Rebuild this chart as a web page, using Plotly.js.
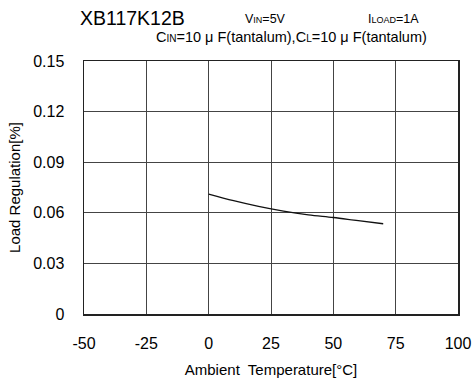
<!DOCTYPE html>
<html><head><meta charset="utf-8">
<script src="https://cdn.plot.ly/plotly-3.0.1.min.js"></script>
<style>html,body{margin:0;padding:0;background:#fff}</style>
</head><body><div id="chart" style="width:475px;height:383px"></div>
<script>
const temps = [0, 10, 20, 30, 40, 50, 60, 70];
const loadReg = [0.0711, 0.0672, 0.0638, 0.0610, 0.0588, 0.0572, 0.0553, 0.0535];
const xTicks = [-50, -25, 0, 25, 50, 75, 100];
const xTickText = ['-50', '-25', '0', '25', '50', '75', '100'];
const yTicks = [0, 0.03, 0.06, 0.09, 0.12, 0.15];
const yTickText = ['0', '0.03', '0.06', '0.09', '0.12', '0.15'];

const font = 'Liberation Sans, Arial, sans-serif';
const data = [{x: temps, y: loadReg, mode: 'lines', line: {color: '#111', width: 1.3, shape: 'spline'}, hoverinfo: 'skip'}];
const layout = {
  width: 475, height: 383,
  margin: {l: 84, r: 17, t: 61, b: 69},
  paper_bgcolor: '#fff', plot_bgcolor: '#fff',
  showlegend: false,
  font: {family: font, color: '#000', size: 13},
  xaxis: {range: [-50, 100], tickvals: xTicks, ticktext: xTickText, ticks: 'outside', ticklen: 14, tickcolor: 'rgba(0,0,0,0)',
    showgrid: true, gridcolor: '#444', gridwidth: 1, zeroline: false,
    showline: true, linecolor: '#222', linewidth: 1.5, mirror: true,
    tickfont: {size: 16},
    title: {text: 'Ambient  Temperature[°C]', font: {size: 15}, standoff: 14}},
  yaxis: {range: [0, 0.15], tickvals: yTicks, ticktext: yTickText, ticks: 'outside', ticklen: 15, tickcolor: 'rgba(0,0,0,0)',
    showgrid: true, gridcolor: '#444', gridwidth: 1, zeroline: false,
    showline: true, linecolor: '#222', linewidth: 1.5, mirror: true,
    tickfont: {size: 16},
    title: {text: 'Load Regulation[%]', font: {size: 15}, standoff: 9}},
  annotations: [
    {text: 'XB117K12B', font: {size: 19.5}},
    {text: 'V<span style="font-size:9px">IN</span>=5V', font: {size: 12.5}},
    {text: 'I<span style="font-size:9px">LOAD</span>=1A', font: {size: 12.5}},
    {text: 'C<span style="font-size:10px">IN</span>=10 \u03bc F(tantalum),C<span style="font-size:10px">L</span>=10 \u03bc F(tantalum)', font: {size: 14.5}}
  ]
};
function px(xp, yp) { return {x: (xp - 84) / (475 - 84 - 17), y: 1 + (61 - yp) / (383 - 61 - 69)}; }
const pos = [[78, 18], [243, 19], [366, 19], [154, 37]];
layout.annotations.forEach((a, i) => {
  const p = px(pos[i][0], pos[i][1]);
  Object.assign(a, {x: p.x, y: p.y, xref: 'paper', yref: 'paper', xanchor: 'left', yanchor: 'middle', showarrow: false});
});
Plotly.newPlot('chart', data, layout, {displayModeBar: false, staticPlot: true});
</script></body></html>
